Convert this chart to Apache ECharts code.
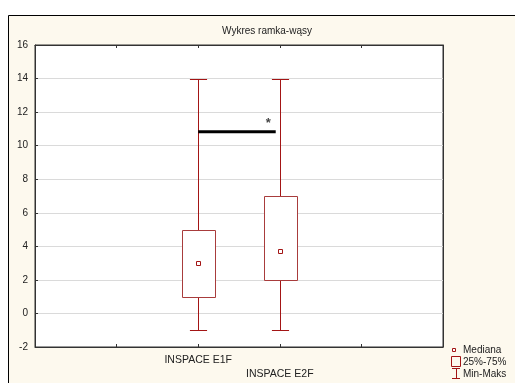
<!DOCTYPE html>
<html><head><meta charset="utf-8">
<script src="https://cdn.jsdelivr.net/npm/echarts@6/dist/echarts.min.js"></script>
<style>html,body{margin:0;padding:0;background:#fff}#c{width:515px;height:383px}</style>
</head><body><div id="c"></div>
<script>
var title = 'Wykres ramka-wąsy';
var categories = ['INSPACE E1F', 'INSPACE E2F'];
var catPositions = [2, 3];
var minVals = [-1, -1];
var q1Vals = [1, 2];
var medianVals = [3, 3.75];
var q3Vals = [5, 7];
var maxVals = [14, 14];
var sigLine = [[2, 10.83], [2.95, 10.83]];
var sigStar = [2.86, 11.35];
var yTicks = [-2, 0, 2, 4, 6, 8, 10, 12, 14, 16];
var legendItems = ['Mediana', '25%-75%', 'Min-Maks'];

var RED = '#a31515';
var FONT = '"Liberation Sans", Arial';
var boxData = catPositions.map(function (p, i) {
  return [p, minVals[i], q1Vals[i], medianVals[i], q3Vals[i], maxVals[i]];
});

var chart = echarts.init(document.getElementById('c'), null, {renderer: 'canvas'});
var option = {
  animation: false,
  backgroundColor: '#ffffff',
  graphic: [
    {type: 'rect', z: -10, shape: {x: 8.5, y: 15.5, width: 520, height: 380},
      style: {fill: '#fdf9ee', stroke: '#000', lineWidth: 1}},
    {type: 'text', x: 267, y: 26, style: {text: title, font: '10px ' + FONT, fill: '#222', textAlign: 'center'}},
    // legend
    {type: 'rect', shape: {x: 452.5, y: 348.5, width: 3, height: 3}, style: {fill: '#fff', stroke: RED, lineWidth: 1}},
    {type: 'text', x: 463, y: 345, style: {text: legendItems[0], font: '10px ' + FONT, fill: '#222'}},
    {type: 'rect', shape: {x: 451.5, y: 356.5, width: 9, height: 10}, style: {fill: 'none', stroke: RED, lineWidth: 1}},
    {type: 'text', x: 463, y: 357, style: {text: legendItems[1], font: '10px ' + FONT, fill: '#222'}},
    {type: 'polyline', shape: {points: [[452, 368.5], [460, 368.5]]}, style: {stroke: RED, lineWidth: 1}},
    {type: 'polyline', shape: {points: [[456.5, 368.5], [456.5, 378.5]]}, style: {stroke: RED, lineWidth: 1}},
    {type: 'polyline', shape: {points: [[452, 378.5], [460, 378.5]]}, style: {stroke: RED, lineWidth: 1}},
    {type: 'text', x: 463, y: 369, style: {text: legendItems[2], font: '10px ' + FONT, fill: '#222'}}
  ],
  grid: {left: 35, top: 45, width: 408, height: 302, show: true, borderColor: '#333', borderWidth: 1, backgroundColor: '#fff'},
  xAxis: [{
    type: 'value', min: 0, max: 5, interval: 1, position: 'bottom',
    axisLine: {show: true, onZero: false, lineStyle: {color: '#333'}},
    axisTick: {show: true, inside: true, length: 3, lineStyle: {color: '#333'}},
    splitLine: {show: false},
    axisLabel: {
      show: true, color: '#222', fontSize: 10.5, fontFamily: 'Liberation Sans', margin: 6, lineHeight: 14,
      formatter: function (v) {
        var i = catPositions.indexOf(v);
        if (i < 0) return '';
        return i === 1 ? '\n' + categories[i] : categories[i];
      }
    }
  }, {
    type: 'value', min: 0, max: 5, interval: 1, position: 'top',
    axisLine: {show: true, onZero: false, lineStyle: {color: '#333'}},
    axisTick: {show: true, inside: true, length: 3, lineStyle: {color: '#333'}},
    axisLabel: {show: false}, splitLine: {show: false}
  }],
  yAxis: [{
    type: 'value', min: yTicks[0], max: yTicks[yTicks.length - 1], interval: 2,
    axisLine: {show: true, onZero: false, lineStyle: {color: '#333'}},
    axisTick: {show: true, inside: true, length: 3, lineStyle: {color: '#333'}},
    splitLine: {show: true, lineStyle: {color: '#dadada', width: 1}},
    axisLabel: {color: '#222', fontSize: 10, fontFamily: 'Liberation Sans', margin: 7}
  }, {
    type: 'value', min: yTicks[0], max: yTicks[yTicks.length - 1], interval: 2, position: 'right',
    axisLine: {show: true, onZero: false, lineStyle: {color: '#333'}},
    axisTick: {show: false}, axisLabel: {show: false}, splitLine: {show: false}
  }],
  series: [{
    type: 'custom',
    data: boxData,
    renderItem: function (params, api) {
      var x = api.value(0);
      var pMin = api.coord([x, api.value(1)]);
      var pQ1 = api.coord([x, api.value(2)]);
      var pMed = api.coord([x, api.value(3)]);
      var pQ3 = api.coord([x, api.value(4)]);
      var pMax = api.coord([x, api.value(5)]);
      var bw = api.size([0.41, 0])[0];
      var cw = api.size([0.21, 0])[0];
      var cx = Math.round(pMin[0]) + 0.5;
      var r = function (v) { return Math.round(v) + 0.5; };
      return {type: 'group', children: [
        {type: 'line', shape: {x1: cx, y1: r(pMax[1]), x2: cx, y2: r(pQ3[1])}, style: {stroke: RED, lineWidth: 1}},
        {type: 'line', shape: {x1: cx, y1: r(pQ1[1]), x2: cx, y2: r(pMin[1])}, style: {stroke: RED, lineWidth: 1}},
        {type: 'line', shape: {x1: cx - cw / 2, y1: r(pMax[1]), x2: cx + cw / 2, y2: r(pMax[1])}, style: {stroke: RED, lineWidth: 1}},
        {type: 'line', shape: {x1: cx - cw / 2, y1: r(pMin[1]), x2: cx + cw / 2, y2: r(pMin[1])}, style: {stroke: RED, lineWidth: 1}},
        {type: 'rect', shape: {x: Math.round(cx - bw / 2) + 0.5, y: r(pQ3[1]), width: Math.round(bw), height: Math.round(pQ1[1] - pQ3[1])}, style: {fill: '#fff', stroke: '#a83c3c', lineWidth: 1}},
        {type: 'rect', shape: {x: cx - 2, y: Math.round(pMed[1]) - 2 + 0.5, width: 4, height: 4}, style: {fill: '#fff', stroke: RED, lineWidth: 1}}
      ]};
    }
  }, {
    type: 'line', data: sigLine, symbol: 'none', lineStyle: {color: '#000', width: 3}, z: 5
  }, {
    type: 'scatter', data: [sigStar], symbolSize: 0,
    label: {show: true, formatter: '*', position: 'inside', color: '#111', fontSize: 13, fontWeight: 'bold', fontFamily: 'Liberation Sans'}
  }]
};
chart.setOption(option);
</script>
</body></html>
